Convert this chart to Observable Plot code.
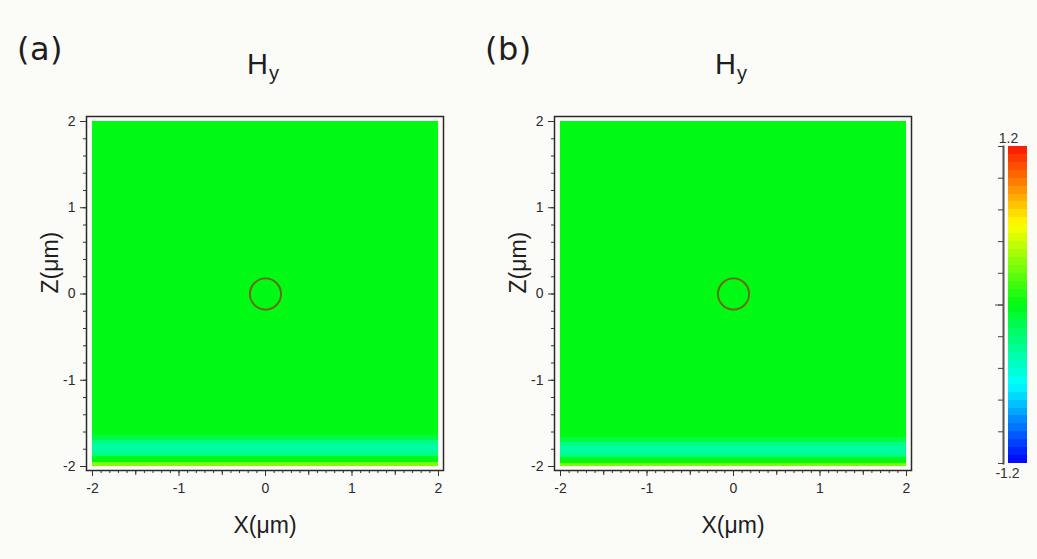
<!DOCTYPE html>
<html>
<head>
<meta charset="utf-8">
<script src="https://cdn.jsdelivr.net/npm/d3@7"></script>
<script src="https://cdn.jsdelivr.net/npm/@observablehq/plot@0.6"></script>
<style>
  html, body { margin: 0; padding: 0; background: #fbfcf8; }
  #page { position: relative; width: 1037px; height: 559px; overflow: hidden; background: #fbfcf8;
          font-family: "Liberation Sans", Arial, sans-serif; color: #1e1e1e; }
  .abs { position: absolute; }
  .tag { font-family: "DejaVu Sans", sans-serif; font-size: 32px; line-height: 1; letter-spacing: 0.5px; }
  .ttl { font-size: 29px; line-height: 1; transform: translateX(-50%); white-space: nowrap; }
  .ttl sub { font-size: 20px; vertical-align: -6px; margin-left: 1px; }
</style>
</head>
<body>
<div id="page"></div>
<script>
// ---- data ----
const panelTags = ["(a)", "(b)"];
const fieldName = "H";
const fieldSub = "y";
const xDomain = [-2, 2];
const zDomain = [-2, 2];
const xTicks = [-2, -1, 0, 1, 2];
const zTicks = [-2, -1, 0, 1, 2];
const xLabel = "X(μm)";
const zLabel = "Z(μm)";
const colorDomain = [-1.2, -0.6, 0, 0.6, 1.2];
const colorRange = ["#0000ff", "#00ffff", "#00fa14", "#ffff00", "#ff1400"];
const colorbarTickLabels = ["1.2", "-1.2"];
const colorbarTickValues = [1.2, -1.2];

// Hy field rows (constant along x) : band top z, band bottom z, Hy value
const rowTopA    = [2.00, -1.64, -1.70, -1.75, -1.83, -1.88, -1.95];
const rowBottomA = [-1.64, -1.70, -1.75, -1.83, -1.88, -1.95, -2.00];
const hyA        = [0.00, -0.12, -0.30, -0.36, -0.30, 0.00, 0.30];

const rowTopB    = [2.00, -1.66, -1.72, -1.77, -1.85, -1.90, -1.97];
const rowBottomB = [-1.66, -1.72, -1.77, -1.85, -1.90, -1.97, -2.00];
const hyB        = [0.00, -0.12, -0.30, -0.36, -0.30, 0.00, 0.30];

// scatterer outline
const scattererX = [0];
const scattererZ = [0];
const scattererRadius = 0.18; // µm

// ---- layout ----
const page = document.getElementById("page");
const W = 460, H = 445, mL = 86, mT = 16, mR = 17, mB = 75;
const inL = 6, inR = 5, inT = 5, inB = 4;
const pxPerUnit = (W - mL - mR - inL - inR) / (xDomain[1] - xDomain[0]);
const colorScale = {type: "linear", domain: colorDomain, range: colorRange, interpolate: "rgb"};
const font = "'Liberation Sans', Arial, sans-serif";

const xMinor = d3.range(-20, 21).map(i => i / 10);
const xMid = [-1.5, -0.5, 0.5, 1.5];
const zMinor = d3.range(-10, 11).map(i => i / 5);

function panel(rowTop, rowBottom, hy, left, tag) {
  const rows = rowTop.map((t, i) => ({z1: t, z2: rowBottom[i], hy: hy[i], x1: xDomain[0], x2: xDomain[1]}));
  const pts = scattererX.map((x, i) => ({x, z: scattererZ[i]}));
  const chart = Plot.plot({
    width: W, height: H,
    marginLeft: mL, marginTop: mT, marginRight: mR, marginBottom: mB,
    insetLeft: inL, insetRight: inR, insetTop: inT, insetBottom: inB,
    style: {background: "transparent", fontFamily: font, color: "#1e1e1e"},
    x: {domain: xDomain},
    y: {domain: zDomain},
    color: colorScale,
    marks: [
      Plot.rect(rows, {x1: "x1", x2: "x2", y1: "z1", y2: "z2", fill: "hy", shapeRendering: "crispEdges"}),
      Plot.dot(pts, {x: "x", y: "z", r: scattererRadius * pxPerUnit, stroke: "#6e6400", strokeWidth: 1.8, fill: "none"}),
      Plot.frame({stroke: "#2a2a2a", strokeWidth: 1.5}),
      Plot.axisX({ticks: xMinor, tickSize: 3, text: null, stroke: "#333"}),
      Plot.axisX({ticks: xMid, tickSize: 5, text: null, stroke: "#333"}),
      Plot.axisX({ticks: xTicks, tickSize: 6, tickPadding: 7, fontSize: 14, label: null, stroke: "#333", fill: "#2a2a2a", tickFormat: d => String(d)}),
      Plot.axisY({ticks: zMinor, tickSize: 3, text: null, stroke: "#333"}),
      Plot.axisY({ticks: zTicks, tickSize: 6, tickPadding: 5, fontSize: 14, label: null, stroke: "#333", fill: "#2a2a2a", tickFormat: d => String(d)}),
      Plot.text([xLabel], {frameAnchor: "bottom", dy: 62, fontSize: 23, fill: "#1e1e1e"}),
      Plot.text([zLabel], {frameAnchor: "left", dx: -36, rotate: -90, fontSize: 23, fill: "#1e1e1e"})
    ]
  });
  const holder = document.createElement("div");
  holder.className = "abs";
  holder.style.left = left + "px";
  holder.style.top = "100px";
  holder.appendChild(chart);
  page.appendChild(holder);

  const t = document.createElement("div");
  t.className = "abs tag";
  t.style.left = (left + 17) + "px";
  t.style.top = "33px";
  t.textContent = tag;
  page.appendChild(t);

  const h = document.createElement("div");
  h.className = "abs ttl";
  h.style.left = (left + 263) + "px";
  h.style.top = "50px";
  h.innerHTML = fieldName + "<sub>" + fieldSub + "</sub>";
  page.appendChild(h);
}

panel(rowTopA, rowBottomA, hyA, 0, panelTags[0]);
panel(rowTopB, rowBottomB, hyB, 468, panelTags[1]);

// ---- colorbar ----
const levelEdges = d3.range(0, 41).map(i => -1.2 + i * 0.06);
const levels = levelEdges.slice(0, -1).map((lo, i) => ({lo, hi: levelEdges[i + 1], mid: (lo + levelEdges[i + 1]) / 2}));
const cbTicks = d3.range(0, 11).map(i => -1.2 + i * 0.24);
const cb = Plot.plot({
  width: 77, height: 370,
  marginLeft: 43, marginRight: 10, marginTop: 26, marginBottom: 27,
  style: {background: "transparent", fontFamily: font, color: "#1e1e1e"},
  y: {domain: [colorDomain[0], colorDomain[colorDomain.length - 1]]},
  color: colorScale,
  marks: [
    Plot.rect(levels, {y1: "lo", y2: "hi", fill: "mid", insetLeft: 5, shapeRendering: "crispEdges"}),
    Plot.frame({anchor: "left", stroke: "#555", strokeWidth: 2}),
    Plot.axisY({ticks: cbTicks, tickSize: 5, text: null, stroke: "#444"}),
    Plot.axisY({ticks: [0], tickSize: 8, text: null, stroke: "#444"}),
    Plot.text([colorbarTickLabels[0]], {y: () => colorbarTickValues[0], frameAnchor: "left", dx: 5, dy: -8, fontSize: 14, fill: "#333", textAnchor: "middle"}),
    Plot.text([colorbarTickLabels[1]], {y: () => colorbarTickValues[1], frameAnchor: "left", dx: 4, dy: 10, fontSize: 14, fill: "#333", textAnchor: "middle"})
  ]
});
const d = document.createElement("div");
d.className = "abs";
d.style.left = "960px";
d.style.top = "120px";
d.appendChild(cb);
page.appendChild(d);
</script>
</body>
</html>
